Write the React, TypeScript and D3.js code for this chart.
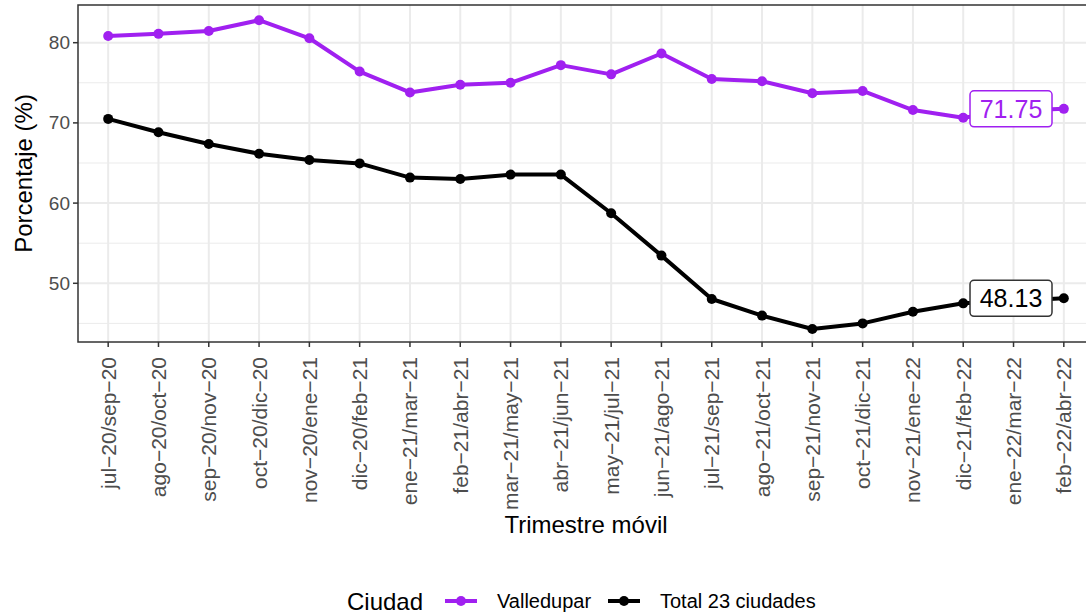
import React, { useEffect, useRef } from "react";
import * as d3 from "d3";

// trimestres moviles
const categories = [
  "jul−20/sep−20", "ago−20/oct−20", "sep−20/nov−20", "oct−20/dic−20",
  "nov−20/ene−21", "dic−20/feb−21", "ene−21/mar−21", "feb−21/abr−21",
  "mar−21/may−21", "abr−21/jun−21", "may−21/jul−21", "jun−21/ago−21",
  "jul−21/sep−21", "ago−21/oct−21", "sep−21/nov−21", "oct−21/dic−21",
  "nov−21/ene−22", "dic−21/feb−22", "ene−22/mar−22", "feb−22/abr−22",
];

const valledupar = [
  80.84, 81.1, 81.46, 82.8, 80.55, 76.4, 73.8, 74.75, 75.0, 77.2,
  76.05, 78.65, 75.47, 75.2, 73.7, 73.98, 71.6, 70.65, 71.5, 71.75,
];

const total23 = [
  70.5, 68.83, 67.37, 66.16, 65.37, 64.95, 63.18, 63.0, 63.55, 63.55,
  58.73, 53.45, 48.04, 45.97, 44.3, 45.0, 46.46, 47.5, 47.8, 48.13,
];

const seriesNames = ["Valledupar", "Total 23 ciudades"];
const yTicks = [50, 60, 70, 80];
const yMinorTicks = [45, 55, 65, 75];

const colors = ["#A020F0", "#000000"];
const FONT = "'Liberation Sans', Arial, Helvetica, sans-serif";

const drawChart = (node: SVGSVGElement) => {
  var width = 1086;
  var height = 614;
  var left = 78, right = 1094, top = 5, bottom = 342;

  var svg = d3.select(node);
  svg.selectAll("*").remove();
  svg.attr("width", width).attr("height", height);

  svg.append("rect").attr("width", width).attr("height", height).attr("fill", "#fff");

  var x = d3.scalePoint<string>().domain(categories).range([left, right]).padding(0.6);
  var y = d3.scaleLinear().domain([42.68, 84.7]).range([bottom, top]);

  var panel = svg.append("g");
  panel.append("rect")
    .attr("x", left).attr("y", top)
    .attr("width", right - left).attr("height", bottom - top)
    .attr("fill", "#fff");

  // grid
  panel.selectAll(".minor")
    .data(yMinorTicks)
    .enter()
    .append("line")
    .attr("x1", left).attr("x2", right)
    .attr("y1", (d) => y(d)).attr("y2", (d) => y(d))
    .attr("stroke", "#EBEBEB").attr("stroke-width", 1);

  panel.selectAll(".major")
    .data(yTicks)
    .enter()
    .append("line")
    .attr("x1", left).attr("x2", right)
    .attr("y1", (d) => y(d)).attr("y2", (d) => y(d))
    .attr("stroke", "#EBEBEB").attr("stroke-width", 2);

  panel.selectAll(".vgrid")
    .data(categories)
    .enter()
    .append("line")
    .attr("x1", (d) => x(d)!).attr("x2", (d) => x(d)!)
    .attr("y1", top).attr("y2", bottom)
    .attr("stroke", "#EBEBEB").attr("stroke-width", 2);

  // lines + points
  var series = [valledupar, total23];
  var line = d3.line<number>()
    .x((d, i) => x(categories[i])!)
    .y((d) => y(d));

  series.forEach((vals, s) => {
    var g = panel.append("g");
    g.append("path")
      .datum(vals)
      .attr("d", line)
      .attr("fill", "none")
      .attr("stroke", colors[s])
      .attr("stroke-width", 4)
      .attr("stroke-linejoin", "round");
    g.selectAll("circle")
      .data(vals)
      .enter()
      .append("circle")
      .attr("cx", (d, i) => x(categories[i])!)
      .attr("cy", (d) => y(d))
      .attr("r", 5)
      .attr("fill", colors[s]);
  });

  // end labels
  var step = x.step();
  series.forEach((vals, s) => {
    var last = vals.length - 1;
    var cx = x(categories[last])! - step * 1.05;
    var cy = y(vals[last]);
    var bw = 82, bh = 36;
    panel.append("rect")
      .attr("x", cx - bw / 2).attr("y", cy - bh / 2)
      .attr("width", bw).attr("height", bh)
      .attr("rx", 4)
      .attr("fill", "#fff")
      .attr("stroke", s === 0 ? colors[0] : "#333")
      .attr("stroke-width", 1.5);
    panel.append("text")
      .attr("x", cx).attr("y", cy)
      .attr("text-anchor", "middle")
      .attr("dominant-baseline", "central")
      .attr("font-family", FONT)
      .attr("font-size", 25)
      .attr("fill", s === 0 ? colors[0] : "#000")
      .text(vals[last].toFixed(2));
  });

  // border
  panel.append("rect")
    .attr("x", left).attr("y", top)
    .attr("width", right - left).attr("height", bottom - top)
    .attr("fill", "none")
    .attr("stroke", "#333")
    .attr("stroke-width", 1.5);

  // y axis
  var yAxis = svg.append("g");
  yAxis.selectAll("line")
    .data(yTicks)
    .enter()
    .append("line")
    .attr("x1", left - 5).attr("x2", left)
    .attr("y1", (d) => y(d)).attr("y2", (d) => y(d))
    .attr("stroke", "#333").attr("stroke-width", 1.5);
  yAxis.selectAll("text")
    .data(yTicks)
    .enter()
    .append("text")
    .attr("x", left - 8)
    .attr("y", (d) => y(d))
    .attr("text-anchor", "end")
    .attr("dominant-baseline", "central")
    .attr("font-family", FONT)
    .attr("font-size", 19)
    .attr("fill", "#4D4D4D")
    .text((d) => d);

  svg.append("text")
    .attr("transform", "translate(32," + (top + bottom) / 2 + ") rotate(-90)")
    .attr("text-anchor", "middle")
    .attr("font-family", FONT)
    .attr("font-size", 24)
    .attr("fill", "#000")
    .text("Porcentaje (%)");

  // x axis
  var xAxis = svg.append("g");
  xAxis.selectAll("line")
    .data(categories)
    .enter()
    .append("line")
    .attr("x1", (d) => x(d)!).attr("x2", (d) => x(d)!)
    .attr("y1", bottom).attr("y2", bottom + 5)
    .attr("stroke", "#333").attr("stroke-width", 1.5);
  xAxis.selectAll("text")
    .data(categories)
    .enter()
    .append("text")
    .attr("transform", (d) => "translate(" + x(d) + "," + (bottom + 15) + ") rotate(-90)")
    .attr("text-anchor", "end")
    .attr("dominant-baseline", "central")
    .attr("font-family", FONT)
    .attr("font-size", 21)
    .attr("fill", "#4D4D4D")
    .text((d) => d);

  svg.append("text")
    .attr("x", (left + right) / 2)
    .attr("y", 533)
    .attr("text-anchor", "middle")
    .attr("font-family", FONT)
    .attr("font-size", 24)
    .attr("fill", "#000")
    .text("Trimestre móvil");

  // legend
  var ly = 601;
  var legend = svg.append("g");
  legend.append("text")
    .attr("x", 347).attr("y", ly)
    .attr("dominant-baseline", "central")
    .attr("font-family", FONT)
    .attr("font-size", 24)
    .text("Ciudad");

  var keyX = [445, 608];
  var labelX = [497, 660];
  seriesNames.forEach((name, s) => {
    legend.append("line")
      .attr("x1", keyX[s]).attr("x2", keyX[s] + 32)
      .attr("y1", ly).attr("y2", ly)
      .attr("stroke", colors[s]).attr("stroke-width", 4);
    legend.append("circle")
      .attr("cx", keyX[s] + 16).attr("cy", ly)
      .attr("r", 5)
      .attr("fill", colors[s]);
    legend.append("text")
      .attr("x", labelX[s]).attr("y", ly)
      .attr("dominant-baseline", "central")
      .attr("font-family", FONT)
      .attr("font-size", 20)
      .text(name);
  });
};

const App = () => {
  const ref = useRef<SVGSVGElement>(null);
  useEffect(() => {
    document.body.style.margin = "0";
    if (ref.current) drawChart(ref.current);
  });
  return <svg ref={ref} style={{ display: "block" }}></svg>;
};

export default App;
